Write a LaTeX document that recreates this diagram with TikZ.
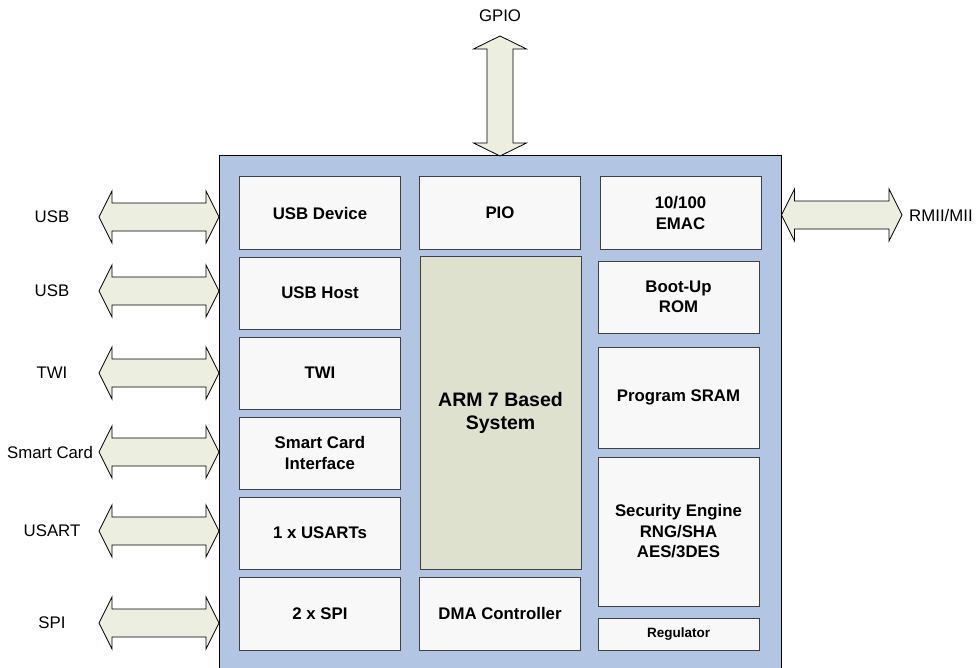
\documentclass[tikz,border=0pt]{standalone}
\usepackage{fontspec}
\setmainfont{Liberation Sans}
\definecolor{chipblue}{HTML}{B2C6E4}
\definecolor{armfill}{HTML}{DDE1CD}
\definecolor{boxfill}{HTML}{F8F8F8}
\definecolor{boxline}{HTML}{404040}
\definecolor{arrowfill}{HTML}{ECEEDF}
\newcommand\hdarrow[3]{%
  \filldraw[barrow] (#1,#3) -- (#1+13,#3-26) -- (#1+13,#3-14) -- (#2-13,#3-14) -- (#2-13,#3-26) -- (#2,#3)
    -- (#2-13,#3+26) -- (#2-13,#3+14) -- (#1+13,#3+14) -- (#1+13,#3+26) -- cycle;}
\newcommand\vdarrow[3]{%
  \filldraw[barrow] (#1,#2) -- (#1+26.5,#2+13) -- (#1+13,#2+13) -- (#1+13,#3-13) -- (#1+26.5,#3-13) -- (#1,#3)
    -- (#1-26.5,#3-13) -- (#1-13,#3-13) -- (#1-13,#2+13) -- (#1-26.5,#2+13) -- cycle;}
\begin{document}
\begin{tikzpicture}[x=1bp,y=-1bp,
  barrow/.style={fill=arrowfill,draw=black,line width=0.8bp,line join=miter},
  blk/.style={draw=boxline,fill=boxfill,line width=1bp,inner sep=0pt,align=center,
     font=\bfseries\fontsize{16.8bp}{20.5bp}\selectfont},
  lbl/.style={inner sep=0pt,font=\fontsize{16.8bp}{20bp}\selectfont}]
\useasboundingbox (0,0) rectangle (976,668);
% chip background
\filldraw[fill=chipblue,draw=black,line width=1bp] (219,156) rectangle (781,675);
% block arrows
\vdarrow{500}{36}{156}
\hdarrow{99}{219}{217}
\hdarrow{99}{219}{291}
\hdarrow{99}{219}{373}
\hdarrow{99}{219}{452}
\hdarrow{99}{219}{531}
\hdarrow{99}{219}{623}
\hdarrow{781.5}{902}{215}
% external labels
\node[lbl] (gpio) at (500,16) {GPIO};
\node[lbl] (usb1) at (52,217) {USB};
\node[lbl] (usb2) at (52,291) {USB};
\node[lbl] (twi) at (52,373) {TWI};
\node[lbl] (sc) at (50,452) {Smart Card};
\node[lbl] (usart) at (52,531) {USART};
\node[lbl] (spi) at (52,623) {SPI};
\node[lbl,anchor=west] (rmii) at (909,215) {RMII/MII};
% left column
\node[blk,minimum width=161bp,minimum height=72bp] (usbdev) at (320,213) {USB Device};
\node[blk,minimum width=161bp,minimum height=72bp] (usbhost) at (320,293) {USB Host};
\node[blk,minimum width=161bp,minimum height=72bp] (twib) at (320,373) {TWI};
\node[blk,minimum width=161bp,minimum height=72bp] (scb) at (320,453) {Smart Card\\Interface};
\node[blk,minimum width=161bp,minimum height=72bp] (usartb) at (320,533) {1 x USARTs};
\node[blk,minimum width=161bp,minimum height=73bp] (spib) at (320,613.5) {2 x SPI};
% middle column
\node[blk,minimum width=161bp,minimum height=72bp] (pio) at (500,213) {PIO};
\node[blk,fill=armfill,minimum width=161bp,minimum height=312bp,
      font=\bfseries\fontsize{19.5bp}{23bp}\selectfont] (arm) at (500.5,413) {ARM 7 Based\\System};
\node[blk,minimum width=161bp,minimum height=73bp] (dma) at (500,613.5) {DMA Controller};
% right column
\node[blk,minimum width=161bp,minimum height=72bp] (emac) at (680.5,213) {10/100\\EMAC};
\node[blk,minimum width=161bp,minimum height=72bp] (boot) at (678.5,297) {Boot-Up\\ROM};
\node[blk,minimum width=161bp,minimum height=101bp] (sram) at (678.5,397.5) {Program SRAM};
\node[blk,minimum width=161bp,minimum height=149bp] (sec) at (678.5,531.5) {Security Engine\\RNG/SHA\\AES/3DES};
\node[blk,minimum width=161bp,minimum height=32bp,
      font=\bfseries\fontsize{13.5bp}{16bp}\selectfont] (reg) at (678.5,634) {Regulator};
\end{tikzpicture}
\end{document}
